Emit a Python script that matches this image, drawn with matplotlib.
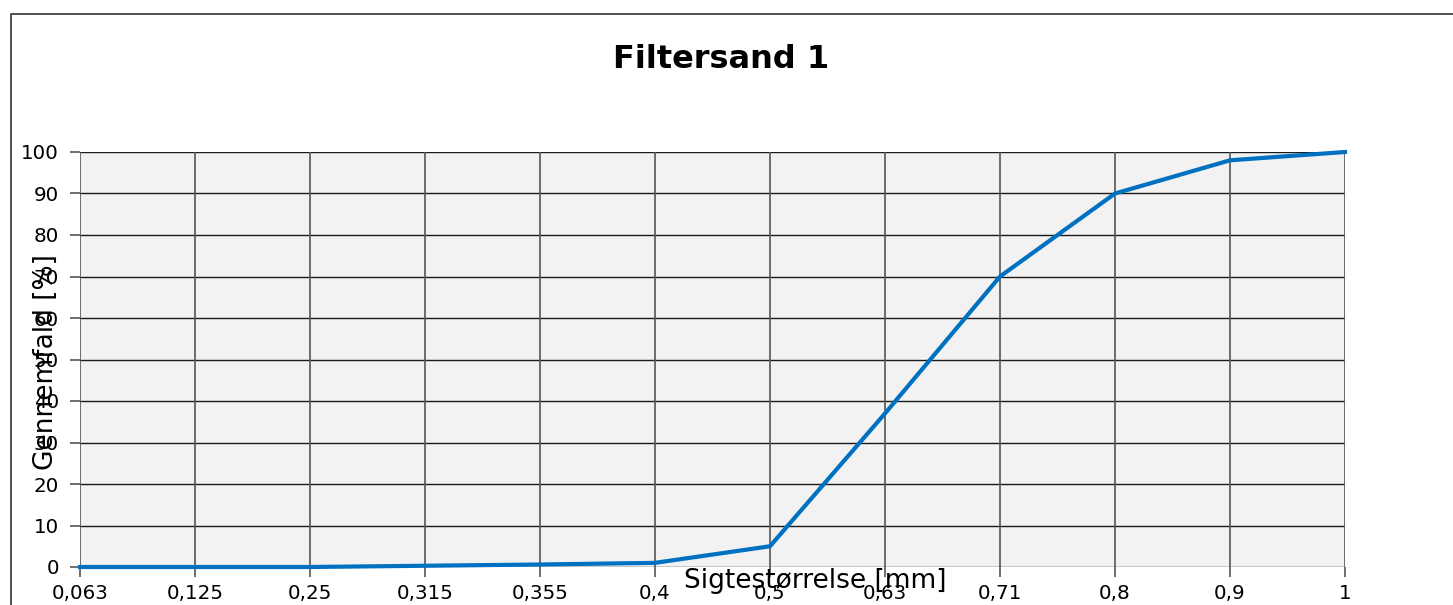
import numpy as np
import matplotlib.pyplot as plt
from matplotlib.lines import Line2D

# sieve sizes (category labels) and passing percentage
sizes = ["0,063", "0,125", "0,25", "0,315", "0,355", "0,4",
         "0,5", "0,63", "0,71", "0,8", "0,9", "1"]
passing = [0, 0, 0, 0.3, 0.6, 1, 5, 37, 70, 90, 98, 100]
yticks = [0, 10, 20, 30, 40, 50, 60, 70, 80, 90, 100]

W, H = 1453, 605
fig = plt.figure(figsize=(W / 100, H / 100), dpi=100)
fig.patch.set_facecolor("white")

# plot area in pixels: x 80..1345, y 152..567
ax = fig.add_axes([80 / W, (H - 567) / H, (1345 - 80) / W, (567 - 152) / H])
ax.set_facecolor("#F2F2F2")

x = np.arange(len(sizes))
ax.plot(x, passing, color="#0070C0", lw=3, zorder=3, clip_on=False)

ax.set_xlim(0, len(sizes) - 1)
ax.set_ylim(0, 100)
ax.set_xticks(x)
ax.set_xticklabels(sizes)
ax.set_yticks(yticks)

for ytk in yticks:
    ax.axhline(ytk, color="#1a1a1a", lw=1, zorder=1)
for xi in x:
    ax.axvline(xi, color="#555555", lw=1.2, zorder=1)

for s in ax.spines.values():
    s.set_visible(False)
ax.tick_params(axis="both", labelsize=14.3, color="#555555", width=1.2, length=7)
ax.tick_params(axis="x", pad=5)
ax.tick_params(axis="y", pad=8)

ax.set_ylabel("Gennemfald [%]", fontsize=19, va="center")
ax.yaxis.set_label_coords((46 - 80) / 1265, 0.494)
ax.set_xlabel("Sigtestørrelse [mm]", fontsize=19, va="center")
ax.xaxis.set_label_coords((815 - 80) / 1265, (567 - 581) / 415)

fig.text(721 / W, 1 - 59 / H, "Filtersand 1", fontsize=23, fontweight="bold",
         ha="center", va="center")

# outer chart border (left and top edges visible)
fig.add_artist(Line2D([11 / W, 11 / W, 1.0], [0.0, 1 - 14 / H, 1 - 14 / H],
                      transform=fig.transFigure, color="#333333", lw=1.2))

fig.savefig("out.png", dpi=100)
